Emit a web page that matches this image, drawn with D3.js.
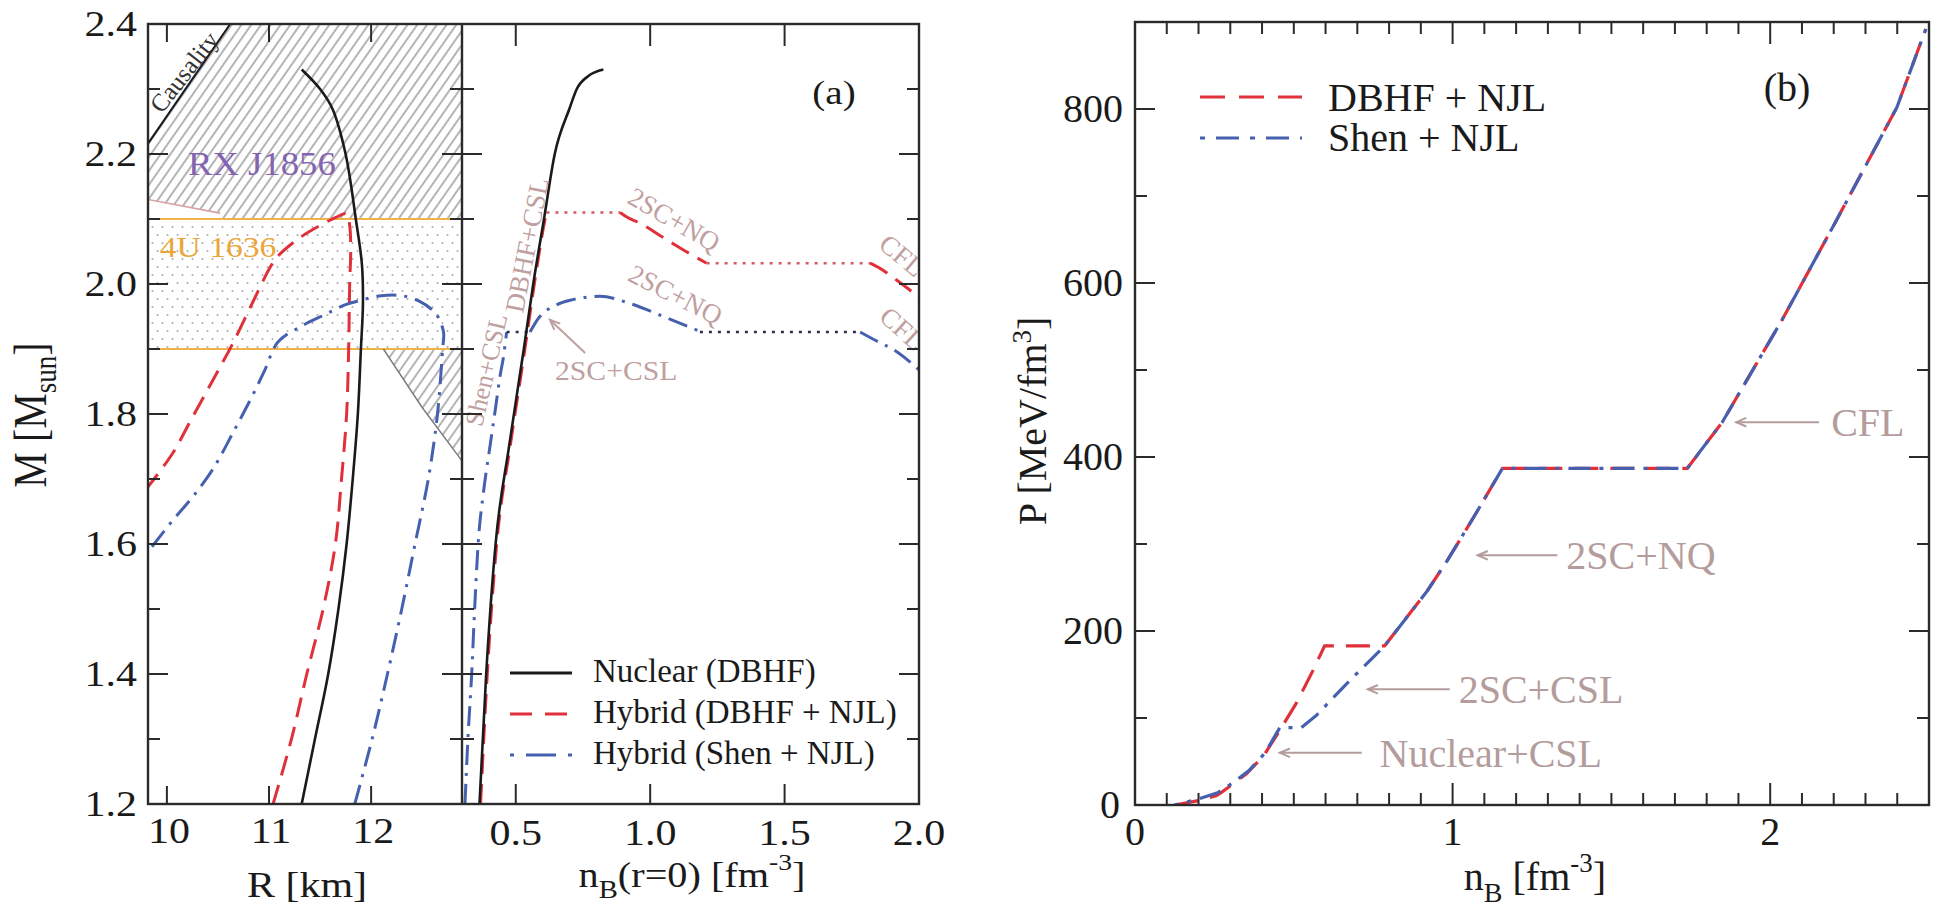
<!DOCTYPE html>
<html><head><meta charset="utf-8">
<script src="https://cdn.jsdelivr.net/npm/d3@7/dist/d3.min.js"></script>
<style>html,body{margin:0;padding:0;background:#fff;} svg{display:block} text{font-family:"Liberation Serif","Times New Roman",serif;}</style>
</head><body>
<svg id="chart" width="1942" height="919"></svg>
<script>
// ================= DATA =================
// Panel (a) left: mass-radius
const rTicks=[10,11,12];
const mTicksMajor=[1.2,1.4,1.6,1.8,2.0,2.2,2.4];
const mTicksMinor=[1.3,1.5,1.7,1.9,2.1,2.3];
const nucR=[11.32,11.45,11.58,11.68,11.76,11.82,11.87,11.90,11.92,11.91,11.85,11.75,11.62,11.5,11.32];
const nucM=[1.2,1.3,1.4,1.5,1.6,1.7,1.8,1.9,1.97,2.03,2.1,2.2,2.27,2.3,2.33];
const dbhfR=[11.04,11.22,11.37,11.53,11.65,11.71,11.76,11.78,11.79,11.80,11.79,11.76,11.65,11.5,11.3,11.1,11.02,10.85,10.65,10.45,10.25,10.05,9.815];
const dbhfM=[1.2,1.3,1.4,1.5,1.6,1.7,1.8,1.9,2.0,2.05,2.09,2.108,2.102,2.09,2.071,2.045,2.028,1.975,1.91,1.852,1.795,1.738,1.688];
const shenR=[11.84,12.01,12.16,12.30,12.43,12.56,12.65,12.70,12.71,12.66,12.6,12.48,12.3,12.1,11.9,11.73,11.55,11.34,11.09,10.96,10.85,10.65,10.45,10.25,10.05,9.815];
const shenM=[1.2,1.3,1.4,1.5,1.6,1.7,1.8,1.9,1.925,1.948,1.96,1.973,1.982,1.982,1.975,1.967,1.953,1.937,1.911,1.868,1.832,1.772,1.715,1.672,1.635,1.588];
const causalityR=[9.815,10.62];
const causalityM=[2.216,2.4];
const rxR=[9.815,10.62,12.89,12.89,12.5,12.12,10.52,10.52,9.815];
const rxM=[2.216,2.4,2.4,1.728,1.81,1.9,1.9,2.109,2.13];
const rxUpperR=[9.815,10.52];
const rxUpperM=[2.13,2.109];
const rxLowerR=[12.12,12.5,12.89];
const rxLowerM=[1.9,1.81,1.728];
const band4U=[1.9,2.1];

// Panel (a) right: mass vs central density
const ncTicks=[0.5,1.0,1.5,2.0];
const ncNucN=[0.365,0.39,0.425,0.475,0.53,0.565,0.605,0.645,0.70,0.727,0.77,0.826];
const ncNucM=[1.2,1.4,1.6,1.75,1.9,2.0,2.1,2.2,2.27,2.3,2.32,2.33];
const ncDbhfCslN=[0.369,0.394,0.429,0.479,0.534,0.569,0.609,0.614];
const ncDbhfCslM=[1.2,1.4,1.6,1.75,1.9,2.0,2.1,2.11];
const ncDbhfPlat1N=[0.614,0.888];
const ncDbhfPlat1M=[2.11,2.11];
const ncDbhf2scN=[0.888,0.913,0.96,1.062,1.15,1.21];
const ncDbhf2scM=[2.11,2.103,2.094,2.068,2.046,2.032];
const ncDbhfPlat2N=[1.21,1.818];
const ncDbhfPlat2M=[2.032,2.032];
const ncDbhfCflN=[1.818,1.855,1.92,1.979,2.0];
const ncDbhfCflM=[2.032,2.024,2.005,1.986,1.978];
const ncShenCslN=[0.311,0.322,0.336,0.347,0.36,0.38,0.404,0.425,0.441,0.455,0.466];
const ncShenCslM=[1.2,1.3,1.4,1.5,1.6,1.68,1.75,1.81,1.857,1.89,1.926];
const ncShenPlat0N=[0.466,0.553];
const ncShenPlat0M=[1.926,1.926];
const ncShen2scN=[0.553,0.584,0.652,0.702,0.813,0.925,1.049,1.185];
const ncShen2scM=[1.926,1.947,1.968,1.975,1.981,1.970,1.950,1.927];
const ncShenPlat2N=[1.185,1.781];
const ncShenPlat2M=[1.926,1.926];
const ncShenCflN=[1.781,1.83,1.92,2.0];
const ncShenCflM=[1.926,1.915,1.895,1.868];

// Panel (b): pressure vs baryon density
const nbTicksMajor=[0,1,2];
const nbTicksMinor=[0.1,0.2,0.3,0.4,0.5,0.6,0.7,0.8,0.9,1.1,1.2,1.3,1.4,1.5,1.6,1.7,1.8,1.9,2.1,2.2,2.3,2.4];
const pTicksMajor=[0,200,400,600,800];
const pTicksMinor=[100,300,500,700];
const eosDbhfN=[0.125,0.2,0.257,0.27,0.304,0.351,0.404,0.456,0.508,0.561,0.597,0.786,0.85,0.92,0.985,1.07,1.157,1.739,1.849,2.038,2.207,2.399,2.49];
const eosDbhfP=[0,5,11,14,23,36,56,86,117,155,183,183,213,246,282,333,387,387,440,558,671,802,892];
const eosShenN=[0.125,0.2,0.26,0.31,0.36,0.41,0.456,0.524,0.571,0.676,0.786,0.85,0.92,0.985,1.07,1.157,1.739,1.849,2.038,2.207,2.399,2.49];
const eosShenP=[0,7,14,26,40,60,89,89,103,143,183,213,246,282,333,387,387,440,558,671,802,892];

// ================= SETUP =================
const RED='#e0303a', BLUE='#4660b0', INK='#1a1a1a', ANN='#bf9f9f', AX='#2a2a2a';
const SERIF='"Liberation Serif","Times New Roman",serif';
const svg=d3.select('#chart');
const defs=svg.append('defs');

const xR=d3.scaleLinear().domain([9.815,12.89]).range([148,462]);
const yM=d3.scaleLinear().domain([1.2,2.4]).range([804,24]);
const xNc=d3.scaleLinear().domain([0.3,2.0]).range([462,919]);
const xNb=d3.scaleLinear().domain([0,2.5]).range([1135,1929]);
const yP=d3.scaleLinear().domain([0,900]).range([805,22]);

function clip(id,x,y,w,h){defs.append('clipPath').attr('id',id).append('rect').attr('x',x).attr('y',y).attr('width',w).attr('height',h);}
clip('clipL',148,24,314,780);
clip('clipM',462,24,457,780);
clip('clipB',1135,22,794,783);

const hatch=defs.append('pattern').attr('id','hatch').attr('patternUnits','userSpaceOnUse')
  .attr('width',8).attr('height',8).attr('patternTransform','rotate(35)');
hatch.append('line').attr('x1',4).attr('y1',-1).attr('x2',4).attr('y2',9).attr('stroke','#8c8c8c').attr('stroke-width',1.3);
const dots=defs.append('pattern').attr('id','dots').attr('patternUnits','userSpaceOnUse').attr('width',10).attr('height',16);
dots.append('rect').attr('width',10).attr('height',16).attr('fill','#fff');
dots.append('circle').attr('cx',2.5).attr('cy',3).attr('r',1).attr('fill','#a9a9a9');
dots.append('circle').attr('cx',7.5).attr('cy',11).attr('r',1).attr('fill','#a9a9a9');

function label(g,x,y,parts,o={}){
  const t=g.append('text')
    .attr('transform',`translate(${x},${y}) rotate(${o.rot||0}) scale(${o.sx||1},${o.sy||1})`)
    .attr('font-size',o.size||36).attr('text-anchor',o.anchor||'start')
    .attr('fill',o.fill||INK).attr('font-family',SERIF);
  if(typeof parts==='string') t.text(parts);
  else parts.forEach(p=>{t.append('tspan').attr('dy',p.dy||0).attr('font-size',p.size||null).text(p.t);});
  return t;
}
function arrow(g,x1,y1,x2,y2,col){
  g.append('line').attr('x1',x1).attr('y1',y1).attr('x2',x2).attr('y2',y2).attr('stroke',col).attr('stroke-width',2);
  const a=Math.atan2(y2-y1,x2-x1), L=11, s=0.4;
  g.append('path').attr('d',`M${x2-L*Math.cos(a-s)},${y2-L*Math.sin(a-s)} L${x2},${y2} L${x2-L*Math.cos(a+s)},${y2-L*Math.sin(a+s)}`)
    .attr('fill','none').attr('stroke',col).attr('stroke-width',2);
}

// ================= PANEL (a) LEFT =================
const gL=svg.append('g').attr('clip-path','url(#clipL)');
const polyLine=d3.line().x(d=>xR(d[0])).y(d=>yM(d[1]));
gL.append('path').attr('d',polyLine(d3.zip(rxR,rxM))+'Z').attr('fill','url(#hatch)');
// 4U 1636 band
gL.append('rect').attr('x',xR(9.815)).attr('y',yM(band4U[1])).attr('width',xR(12.89)-xR(9.815))
  .attr('height',yM(band4U[0])-yM(band4U[1])).attr('fill','url(#dots)');
band4U.forEach(m=>gL.append('line').attr('x1',148).attr('x2',462).attr('y1',yM(m)).attr('y2',yM(m))
  .attr('stroke','#f0b445').attr('stroke-width',2.2));
gL.append('path').attr('d',polyLine(d3.zip(rxUpperR,rxUpperM))).attr('fill','none').attr('stroke','#d9a3a3').attr('stroke-width',1.6);
gL.append('path').attr('d',polyLine(d3.zip(rxLowerR,rxLowerM))).attr('fill','none').attr('stroke','#7a7a7a').attr('stroke-width',1.4);
gL.append('path').attr('d',polyLine(d3.zip(causalityR,causalityM))).attr('fill','none').attr('stroke',INK).attr('stroke-width',2);

const curveRM=d3.line().x(d=>xR(d[0])).y(d=>yM(d[1])).curve(d3.curveCatmullRom.alpha(0.5));
gL.append('path').attr('d',curveRM(d3.zip(dbhfR,dbhfM))).attr('fill','none').attr('stroke',RED).attr('stroke-width',3).attr('stroke-dasharray','20,10');
gL.append('path').attr('d',curveRM(d3.zip(shenR,shenM))).attr('fill','none').attr('stroke',BLUE).attr('stroke-width',3).attr('stroke-dasharray','20,8,3,8');
gL.append('path').attr('d',curveRM(d3.zip(nucR,nucM))).attr('fill','none').attr('stroke',INK).attr('stroke-width',2.6);

label(gL,xR(10.93),yM(2.168),'RX J1856',{size:34,sx:1.08,anchor:'middle',fill:'#8463b0'});
label(gL,xR(9.93),yM(2.042),'4U 1636',{size:30,sx:1.12,fill:'#eaa63a'});
label(gL,xR(10.235),yM(2.318),'Causality',{size:25,rot:-52,anchor:'middle',fill:'#333'});

// ================= PANEL (a) RIGHT =================
const gM=svg.append('g').attr('clip-path','url(#clipM)');
const lineNc=d3.line().x(d=>xNc(d[0])).y(d=>yM(d[1]));
const curveNc=d3.line().x(d=>xNc(d[0])).y(d=>yM(d[1])).curve(d3.curveMonotoneX);
function ncPath(N,M,col,dash,w,curved){
  gM.append('path').attr('d',(curved?curveNc:lineNc)(d3.zip(N,M))).attr('fill','none')
    .attr('stroke',col).attr('stroke-width',w).attr('stroke-dasharray',dash);
}
ncPath(ncDbhfCslN,ncDbhfCslM,RED,'20,10',3,true);
ncPath(ncDbhfPlat1N,ncDbhfPlat1M,'#d35a62','3,6',2.5,false);
ncPath(ncDbhf2scN,ncDbhf2scM,RED,'20,10',3,true);
ncPath(ncDbhfPlat2N,ncDbhfPlat2M,'#d35a62','3,6',2.5,false);
ncPath(ncDbhfCflN,ncDbhfCflM,RED,'20,10',3,true);
ncPath(ncShenCslN,ncShenCslM,BLUE,'20,8,3,8',3,true);
ncPath(ncShenPlat0N,ncShenPlat0M,'#2c3050','3,6',2.5,false);
ncPath(ncShen2scN,ncShen2scM,BLUE,'20,8,3,8',3,true);
ncPath(ncShenPlat2N,ncShenPlat2M,'#2c3050','3,6',2.5,false);
ncPath(ncShenCflN,ncShenCflM,BLUE,'20,8,3,8',3,true);
ncPath(ncNucN,ncNucM,INK,null,2.6,true);

// annotations middle
label(gM,xNc(0.575),yM(2.057),'DBHF+CSL',{size:27,rot:-79,anchor:'middle',fill:ANN});
label(gM,xNc(0.422),yM(1.865),'Shen+CSL',{size:26,rot:-77,anchor:'middle',fill:ANN});
label(gM,xNc(1.072),yM(2.087),'2SC+NQ',{size:27,rot:30,anchor:'middle',fill:ANN});
label(gM,xNc(1.079),yM(1.971),'2SC+NQ',{size:27,rot:27,anchor:'middle',fill:ANN});
label(gM,xNc(1.915),yM(2.033),'CFL',{size:27,rot:40,anchor:'middle',fill:ANN});
label(gM,xNc(1.915),yM(1.921),'CFL',{size:27,rot:42,anchor:'middle',fill:ANN});
label(gM,xNc(0.646),yM(1.852),'2SC+CSL',{size:27,sx:1.1,fill:ANN});
arrow(gM,xNc(0.758),yM(1.894),xNc(0.627),yM(1.945),ANN);
label(gM,xNc(1.684),yM(2.277),'(a)',{size:34,sx:1.15,anchor:'middle'});

// legend (a)
const legA=svg.append('g');
const legRows=[
  {t:'Nuclear (DBHF)',col:INK,dash:null,y:673},
  {t:'Hybrid (DBHF + NJL)',col:RED,dash:'22,13',y:714},
  {t:'Hybrid (Shen + NJL)',col:BLUE,dash:'4,12,30,12',y:755}
];
legRows.forEach(r=>{
  legA.append('line').attr('x1',510).attr('x2',572).attr('y1',r.y).attr('y2',r.y).attr('stroke',r.col)
    .attr('stroke-width',3).attr('stroke-dasharray',r.dash);
  label(legA,593,r.y+9,r.t,{size:33});
});

// ================= PANEL (b) =================
const gB=svg.append('g').attr('clip-path','url(#clipB)');
const lineB=d3.line().x(d=>xNb(d[0])).y(d=>yP(d[1]));
gB.append('path').attr('d',lineB(d3.zip(eosDbhfN,eosDbhfP))).attr('fill','none').attr('stroke',RED).attr('stroke-width',3.2).attr('stroke-dasharray','24,12');
gB.append('path').attr('d',lineB(d3.zip(eosShenN,eosShenP))).attr('fill','none').attr('stroke',BLUE).attr('stroke-width',3.2).attr('stroke-dasharray','22,9,4,9').attr('stroke-dashoffset',18);

const annB=[
  {t:'CFL',tip:[1.893,440],tail:[2.154,440],tx:2.192},
  {t:'2SC+NQ',tip:[1.079,287],tail:[1.330,287],tx:1.358},
  {t:'2SC+CSL',tip:[0.733,133],tail:[0.991,133],tx:1.019},
  {t:'Nuclear+CSL',tip:[0.456,60],tail:[0.714,60],tx:0.770}
];
annB.forEach(a=>{
  arrow(gB,xNb(a.tail[0]),yP(a.tail[1]),xNb(a.tip[0]),yP(a.tip[1]),'#b49c9c');
  label(gB,xNb(a.tx),yP(a.tip[1])+14,a.t,{size:40,fill:'#b49c9c'});
});
label(gB,xNb(2.053),yP(809),'(b)',{size:40,anchor:'middle'});

// legend (b)
const legB=svg.append('g');
legB.append('line').attr('x1',1200).attr('x2',1302).attr('y1',97).attr('y2',97).attr('stroke',RED).attr('stroke-width',3.2).attr('stroke-dasharray','25,14');
legB.append('line').attr('x1',1200).attr('x2',1302).attr('y1',138).attr('y2',138).attr('stroke',BLUE).attr('stroke-width',3.2).attr('stroke-dasharray','5,11,23,11');
label(legB,1328,111,'DBHF + NJL',{size:40});
label(legB,1328,151,'Shen + NJL',{size:40});

// ================= AXES =================
const ax=svg.append('g').attr('stroke',AX).attr('stroke-width',2);
function tick(x1,y1,x2,y2){ax.append('line').attr('x1',x1).attr('y1',y1).attr('x2',x2).attr('y2',y2);}
// frames
ax.append('rect').attr('x',148).attr('y',24).attr('width',771).attr('height',780).attr('fill','none').attr('stroke-width',2.4);
ax.append('line').attr('x1',462).attr('x2',462).attr('y1',24).attr('y2',804).attr('stroke-width',2.4);
ax.append('rect').attr('x',1135).attr('y',22).attr('width',794).attr('height',783).attr('fill','none').attr('stroke-width',2.4);

// panel (a) y ticks
mTicksMajor.forEach(m=>{const y=yM(m); tick(148,y,168,y); tick(442,y,482,y); tick(899,y,919,y);});
mTicksMinor.forEach(m=>{const y=yM(m); tick(148,y,160,y); tick(450,y,474,y); tick(907,y,919,y);});
rTicks.forEach(r=>{const x=xR(r); tick(x,804,x,786); tick(x,24,x,42);});
ncTicks.filter(n=>n<2).forEach(n=>{const x=xNc(n); tick(x,804,x,784); tick(x,24,x,46);});
// panel (b) ticks
nbTicksMajor.forEach(n=>{const x=xNb(n); tick(x,805,x,783); tick(x,22,x,44);});
nbTicksMinor.forEach(n=>{const x=xNb(n); tick(x,805,x,793); tick(x,22,x,34);});
pTicksMajor.forEach(p=>{const y=yP(p); tick(1135,y,1155,y); tick(1909,y,1929,y);});
pTicksMinor.forEach(p=>{const y=yP(p); tick(1135,y,1147,y); tick(1917,y,1929,y);});

// tick labels
const tl=svg.append('g');
mTicksMajor.forEach(m=>label(tl,137,yM(m)+12,d3.format('.1f')(m),{size:35,sx:1.2,anchor:'end'}));
rTicks.forEach(r=>label(tl,xR(r)+2,843,String(r),{size:35,sx:1.2,anchor:'middle'}));
ncTicks.forEach(n=>label(tl,xNc(n),845,d3.format('.1f')(n),{size:35,sx:1.2,anchor:'middle'}));
pTicksMajor.forEach(p=>label(tl,p===0?1120:1123,yP(p)+13,String(p),{size:40,anchor:'end'}));
nbTicksMajor.forEach(n=>label(tl,xNb(n),845,String(n),{size:40,anchor:'middle'}));

// axis titles
label(tl,307,897,'R [km]',{size:35,sx:1.2,anchor:'middle'});
label(tl,692,887,[{t:'n'},{t:'B',dy:11,size:25},{t:'(r=0) [fm',dy:-11},{t:'-3',dy:-17,size:24},{t:']',dy:17}],{size:35,sx:1.15,anchor:'middle'});
label(tl,46,415,[{t:'M [M'},{t:'sun',dy:9,size:27},{t:']',dy:-9}],{size:40,rot:-90,sy:1.15,anchor:'middle'});
label(tl,1046,421,[{t:'P [MeV/fm'},{t:'3',dy:-15,size:27},{t:']',dy:15}],{size:40,rot:-90,anchor:'middle'});
label(tl,1535,890,[{t:'n'},{t:'B',dy:12,size:28},{t:' [fm',dy:-12},{t:'-3',dy:-18,size:27},{t:']',dy:18}],{size:40,anchor:'middle'});
</script>
</body></html>
